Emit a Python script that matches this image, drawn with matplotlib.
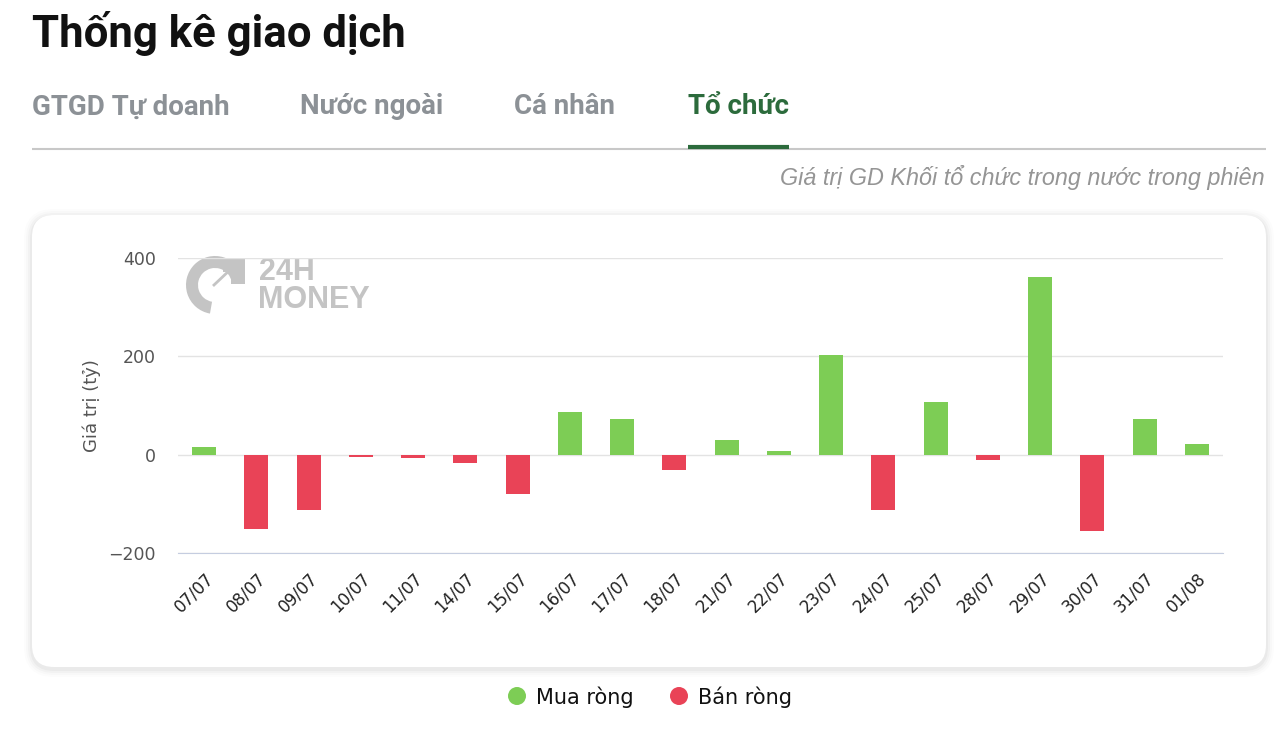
import numpy as np
import matplotlib.pyplot as plt
from matplotlib.patches import FancyBboxPatch, Circle, Wedge, Rectangle

# Dữ liệu: giá trị GD khối tổ chức trong nước (tỷ đồng)
dates = ["07/07", "08/07", "09/07", "10/07", "11/07", "14/07", "15/07", "16/07",
         "17/07", "18/07", "21/07", "22/07", "23/07", "24/07", "25/07", "28/07",
         "29/07", "30/07", "31/07", "01/08"]
values = [15, -151, -112, -4, -7, -17, -80, 86,
          72, -31, 30, 8, 202, -112, 108, -11,
          362, -155, 72, 21]
tabs = ["GTGD Tự doanh", "Nước ngoài", "Cá nhân", "Tổ chức"]
yticks = [-200, 0, 200, 400]

GREEN = "#7dcd55"
RED = "#e94357"
DARK_GREEN = "#2c6b3c"
GREY_TAB = "#8c9196"

W, H = 1280, 734
fig = plt.figure(figsize=(W / 100, H / 100), dpi=100)
fig.patch.set_facecolor("white")

# fond en coordonnées pixel
bg = fig.add_axes([0, 0, 1, 1], zorder=0)
bg.set_xlim(0, W)
bg.set_ylim(H, 0)
bg.set_axis_off()

bg.text(32, 33, "Thống kê giao dịch", fontsize=31.5, fontweight="bold",
        family="Roboto", color="#111111", va="center", ha="left")

tab_x = [32, 300, 514, 688]
for i, (t, x) in enumerate(zip(tabs, tab_x)):
    col = DARK_GREEN if i == 3 else GREY_TAB
    bg.text(x, 107, t, fontsize=20, fontweight="bold", family="Roboto",
            color=col, va="center", ha="left")
bg.plot([32, 1266], [149, 149], color="#c8c8c8", lw=1.5, solid_capstyle="butt")
bg.plot([688, 789], [147, 147], color=DARK_GREEN, lw=3, solid_capstyle="butt")

bg.text(1265, 177, "Giá trị GD Khối tổ chức trong nước trong phiên",
        fontsize=16.8, style="italic", family="Liberation Sans", color="#959595",
        ha="right", va="center")

# carte avec ombre
for k, a in enumerate([0.010, 0.015, 0.022, 0.032]):
    off = 8 - 2 * k
    bg.add_patch(FancyBboxPatch((32 - off, 215 - off + 2), 1234 + 2 * off, 452 + 2 * off,
                                boxstyle="round,pad=0,rounding_size=%d" % (22 + off),
                                facecolor="black", edgecolor="none", alpha=a))
bg.add_patch(FancyBboxPatch((32, 215), 1234, 452,
                            boxstyle="round,pad=0,rounding_size=22",
                            facecolor="white", edgecolor="none"))

# filigrane 24H MONEY
wm = "#c4c4c4"
bg.add_patch(Wedge((215, 285), 29, 100, 350, width=12, facecolor=wm, edgecolor="none"))
bg.add_patch(Rectangle((223, 258), 22, 14, facecolor=wm, edgecolor="none"))
bg.add_patch(Rectangle((231, 258), 14, 26, facecolor=wm, edgecolor="none"))
bg.plot([214, 232], [285, 268], color=wm, lw=2)
bg.text(259, 272, "24H", fontsize=22, fontweight="bold", family="Liberation Sans",
        color=wm, va="center", ha="left")
bg.text(258, 300, "MONEY", fontsize=22, fontweight="bold", family="Liberation Sans",
        color=wm, va="center", ha="left")

# légende
bg.add_patch(Circle((517, 696), 9, facecolor=GREEN, edgecolor="none"))
bg.text(536, 697, "Mua ròng", fontsize=15, family="DejaVu Sans", color="#111111",
        va="center", ha="left")
bg.add_patch(Circle((679, 696), 9, facecolor=RED, edgecolor="none"))
bg.text(698, 697, "Bán ròng", fontsize=15, family="DejaVu Sans", color="#111111",
        va="center", ha="left")

# graphique
left, right, top, bottom = 178, 1223, 258, 553
ax = fig.add_axes([left / W, 1 - bottom / H, (right - left) / W, (bottom - top) / H],
                  zorder=2)
ax.patch.set_alpha(0)

x = np.arange(len(dates))
colors = [GREEN if v >= 0 else RED for v in values]
ax.bar(x, values, width=0.46, color=colors, zorder=3)

ax.set_xlim(-0.5, len(dates) - 0.5)
ax.set_ylim(-200, 400)
ax.set_yticks(yticks)
ax.set_yticklabels([str(v).replace("-", "\u2212") for v in yticks])
ax.grid(axis="y", color="#e3e3e3", lw=1, zorder=0)
for s in ["top", "right", "left"]:
    ax.spines[s].set_visible(False)
ax.spines["bottom"].set_color("#c5cde0")
ax.spines["bottom"].set_position(("data", -200))
ax.tick_params(axis="y", length=0, pad=16, labelsize=12.5, labelcolor="#555555")
ax.tick_params(axis="x", length=0, pad=12, labelsize=12, labelcolor="#222222")
ax.set_xticks(x)
ax.set_xticklabels(dates, rotation=45, ha="right", rotation_mode="anchor")
ax.set_ylabel("Giá trị (tỷ)", fontsize=13, color="#555555", labelpad=5)

fig.savefig("out.png", dpi=100, facecolor="white")
